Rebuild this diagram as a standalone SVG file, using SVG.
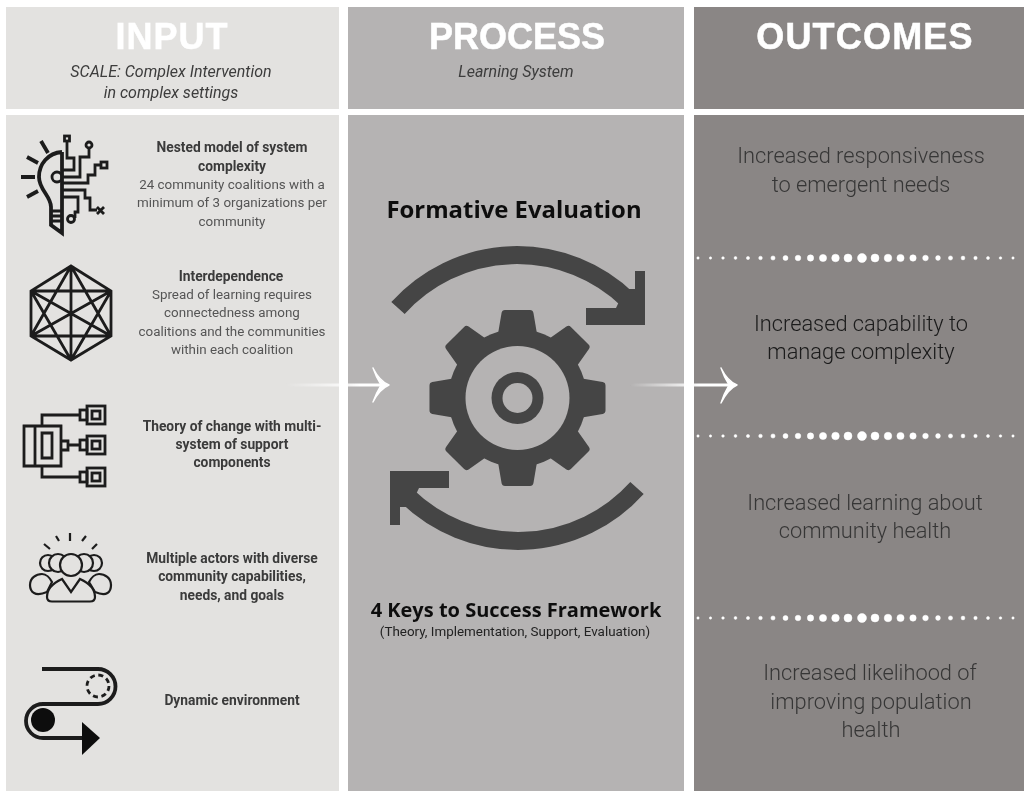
<svg xmlns="http://www.w3.org/2000/svg" xmlns:xlink="http://www.w3.org/1999/xlink" width="1024" height="791" viewBox="0 0 1024 791">
<style>
text{font-family:Roboto,"Liberation Sans",sans-serif;text-anchor:middle}
.h{font-family:"Liberation Sans",Arial,sans-serif;font-weight:700;font-size:36px;fill:#fff;stroke:#fff;stroke-width:.5}
.s{font-style:italic;font-size:16px;fill:#3c3c3c}
.b{font-size:13.800px;font-weight:700;fill:#3a3a3a}
.n{font-size:13.400px;fill:#555}
.o{font-size:21.800px;font-weight:300;fill:#2e2e2e}
.p{font-family:"Open Sans",sans-serif;font-weight:700;fill:#111}
.i{fill:none;stroke:#1c1c1c;stroke-width:2.800;stroke-linejoin:miter}
.t{stroke-width:3.800}
.f{fill:#e3e2e0}
.dk{fill:#454545}
.d{fill:#fff;stroke:#fff;stroke-width:.5}
.c{fill:#fff;stroke:#fff;stroke-width:1.400;stroke-linejoin:round}
</style>
<defs>
<filter id="b" x="-5%" y="-5%" width="110%" height="110%"><feGaussianBlur stdDeviation="0.55"/></filter>
<linearGradient id="g1" gradientUnits="userSpaceOnUse" x1="285" y1="0" x2="360" y2="0"><stop offset="0" stop-color="#fff" stop-opacity="0"/><stop offset="1" stop-color="#fff"/></linearGradient>
<linearGradient id="g2" gradientUnits="userSpaceOnUse" x1="630" y1="0" x2="700" y2="0"><stop offset="0" stop-color="#fff" stop-opacity="0"/><stop offset="1" stop-color="#fff"/></linearGradient>
<g id="dots">
<circle class="d" cx="0" cy="0" r="1.2"/><circle class="d" cx="12.5" cy="0" r="1.2"/><circle class="d" cx="25" cy="0" r="1.3"/><circle class="d" cx="37.5" cy="0" r="1.4"/><circle class="d" cx="50" cy="0" r="1.6"/><circle class="d" cx="62.5" cy="0" r="1.8"/><circle class="d" cx="75" cy="0" r="2.1"/><circle class="d" cx="87.5" cy="0" r="2.5"/><circle class="d" cx="100" cy="0" r="2.8"/><circle class="d" cx="112.5" cy="0" r="3.2"/><circle class="d" cx="125" cy="0" r="3.6"/><circle class="d" cx="137.5" cy="0" r="3.8"/><circle class="d" cx="150" cy="0" r="4"/><circle class="d" cx="164" cy="0" r="4.5"/><circle class="d" cx="177" cy="0" r="4"/><circle class="d" cx="190" cy="0" r="3.8"/><circle class="d" cx="202.500" cy="0" r="3.6"/><circle class="d" cx="215" cy="0" r="3.2"/><circle class="d" cx="227.500" cy="0" r="2.8"/><circle class="d" cx="240" cy="0" r="2.4"/><circle class="d" cx="252.500" cy="0" r="2.1"/><circle class="d" cx="265" cy="0" r="1.9"/><circle class="d" cx="277.500" cy="0" r="1.7"/><circle class="d" cx="290" cy="0" r="1.5"/><circle class="d" cx="302.500" cy="0" r="1.3"/><circle class="d" cx="315" cy="0" r="1.2"/>
</g>
<g id="cyc">
<path d="M398 308A160 160 0 0 1 628 300" fill="none" stroke="#454545" stroke-width="18"/>
<path class="dk" d="M635 271H645V325H586V308H616L625 289H635Z"/>
</g>
<path id="tooth" class="dk" stroke="#454545" stroke-width="7" stroke-linejoin="round" d="M-17 -58L-12.500 -84.500H12.500L17 -58Z"/>
</defs>
<rect width="1024" height="791" fill="#fff"/>
<g id="panels" filter="url(#b)">
<rect x="6" y="7" width="333" height="102" fill="#e3e2e0"/>
<rect x="348" y="7" width="336" height="102" fill="#b5b3b3"/>
<rect x="694" y="7" width="335" height="102" fill="#8a8685"/>
<rect x="6" y="115" width="333" height="681" fill="#e3e2e0"/>
<rect x="348" y="115" width="336" height="681" fill="#b5b3b3"/>
<rect x="694" y="115" width="335" height="681" fill="#8a8685"/>
</g>
<g id="headers" filter="url(#b)">
<text class="h" x="172" y="49" letter-spacing="1">INPUT</text>
<text class="h" x="517" y="49">PROCESS</text>
<text class="h" x="865" y="49" letter-spacing="1.200">OUTCOMES</text>
<text class="s" x="171" y="77">SCALE: Complex Intervention</text>
<text class="s" x="171" y="98">in complex settings</text>
<text class="s" x="516" y="77">Learning System</text>
</g>
<g id="node-nested" filter="url(#b)">
<g class="i">
<path class="t" d="M62 152C48 153 39 164 39 177C39 190 51 196 51 207V225L62 233V152"/>
<path d="M51 211H62M51 216H62M51 221H62"/>
<path class="t" d="M41 141L48 153M27 157L38 163M21 177H35M27 197L38 191"/>
<circle cx="57" cy="177" r="5"/>
<rect x="64.500" y="136" width="5" height="5"/>
<circle cx="89" cy="145" r="3"/>
<rect x="101" y="162" width="6" height="6"/>
<path d="M67 141V158H74V170H62M89 148V157H80V177H62M101 165H95V175H88V183H62M62 190H85V198H90V210H97M97 207L104 214M104 207L97 214M62 197H78V212H75V218"/>
<circle cx="71" cy="219" r="3.500"/>
</g>
<text class="b" x="232" y="152">Nested model of system</text>
<text class="b" x="232" y="171">complexity</text>
<text class="n" x="232" y="189">24 community coalitions with a</text>
<text class="n" x="232" y="207">minimum of 3 organizations per</text>
<text class="n" x="232" y="226">community</text>
</g>
<g id="node-interdependence" filter="url(#b)">
<path class="i" d="M71 266L111 291L111 336L71 360L31 336L31 291ZM71 266L111 336M71 266L71 360M71 266L31 336M111 291L71 360M111 291L31 336M111 291L31 291M111 336L31 336M111 336L31 291M71 360L31 291"/>
<text class="b" x="231" y="281">Interdependence</text>
<text class="n" x="232" y="299">Spread of learning requires</text>
<text class="n" x="232" y="317">connectedness among</text>
<text class="n" x="232" y="336">coalitions and the communities</text>
<text class="n" x="232" y="354">within each coalition</text>
</g>
<g id="node-theory" filter="url(#b)">
<g class="i">
<path d="M24 426H61V466H24ZM35 426V466M42 433H52V458H42ZM42 426V415H80M42 466V477H80M61 441H68V450H61M68 445H80"/>
<rect x="80" y="410" width="7" height="10"/><rect x="87" y="406" width="18" height="18"/><rect x="92" y="411" width="8" height="8"/>
<rect x="80" y="440" width="7" height="10"/><rect x="87" y="436" width="18" height="18"/><rect x="92" y="441" width="8" height="8"/>
<rect x="80" y="472" width="7" height="10"/><rect x="87" y="468" width="18" height="18"/><rect x="92" y="473" width="8" height="8"/>
</g>
<text class="b" x="232" y="431">Theory of change with multi-</text>
<text class="b" x="232" y="449">system of support</text>
<text class="b" x="232" y="467">components</text>
</g>
<g id="node-actors" filter="url(#b)">
<g class="i" stroke-width="2.200" style="stroke-width:2.200">
<path d="M44 544L50 549M56 536L59 541M70 533V541M86 536L82 541M97 544L92 549"/>
<circle class="f" cx="48" cy="563" r="8"/><circle class="f" cx="94" cy="563" r="8"/>
<circle class="f" cx="58" cy="563" r="9"/><circle class="f" cx="84" cy="563" r="9"/>
<circle class="f" cx="71" cy="565" r="11"/>
<path class="f" d="M47 592C35 597 30 592 30 585C30 578 36 574 42 574C46 574 50 578 52 582Z"/>
<path class="f" d="M95 592C107 597 111 592 111 585C111 578 105 574 99 574C95 574 91 578 89 582Z"/>
<path class="f" d="M47 597C47 590 51 584 62 579L71 592L80 579C91 584 95 590 95 597C95 600 93 601.500 90 601.500H52C49 601.500 47 600 47 597Z"/>
</g>
<text class="b" x="232" y="563">Multiple actors with diverse</text>
<text class="b" x="232" y="581">community capabilities,</text>
<text class="b" x="232" y="600">needs, and goals</text>
</g>
<g id="node-dynamic" filter="url(#b)">
<path class="i t" d="M42 669H98A17.500 17.500 0 0 1 98 704H43A17 17 0 0 0 43 738H85"/>
<circle cx="98" cy="686" r="11" class="i" stroke-dasharray="5 3.640"/>
<circle cx="43" cy="720" r="12" fill="#111"/>
<path d="M82 722L100 738L82 755Z" fill="#111"/>
<text class="b" x="232" y="705">Dynamic environment</text>
</g>
<g id="node-process" filter="url(#b)">
<text class="p" x="514" y="218" font-size="23.900">Formative Evaluation</text>
<use xlink:href="#cyc" href="#cyc"/>
<use xlink:href="#cyc" href="#cyc" transform="rotate(180 517.500 398)"/>
<g transform="translate(517.500 398)">
<use href="#tooth"/><use href="#tooth" transform="rotate(45)"/><use href="#tooth" transform="rotate(90)"/><use href="#tooth" transform="rotate(135)"/><use href="#tooth" transform="rotate(180)"/><use href="#tooth" transform="rotate(225)"/><use href="#tooth" transform="rotate(270)"/><use href="#tooth" transform="rotate(315)"/>
<circle r="69" class="dk"/><circle r="52" fill="#b5b3b3"/><circle r="26" class="dk"/><circle r="15" fill="#b5b3b3"/>
</g>
<text class="p" x="516" y="616.500" font-size="20">4 Keys to Success Framework</text>
<text x="515" y="636" font-size="13.400" fill="#222">(Theory, Implementation, Support, Evaluation)</text>
</g>
<g id="node-outcome-1" filter="url(#b)">
<text class="o" x="861" y="163" fill-opacity=".9">Increased responsiveness</text>
<text class="o" x="861" y="192" fill-opacity=".9">to emergent needs</text>
</g>
<g id="node-outcome-2" filter="url(#b)">
<text class="o" x="861" y="331" style="fill:#1a1a1a">Increased capability to</text>
<text class="o" x="861" y="359" style="fill:#1a1a1a">manage complexity</text>
</g>
<g id="node-outcome-3" filter="url(#b)">
<text class="o" x="865" y="510" fill-opacity=".9">Increased learning about</text>
<text class="o" x="865" y="538" fill-opacity=".9">community health</text>
</g>
<g id="node-outcome-4" filter="url(#b)">
<text class="o" x="870" y="680" fill-opacity=".9">Increased likelihood of</text>
<text class="o" x="871" y="709" fill-opacity=".9">improving population</text>
<text class="o" x="871" y="737" fill-opacity=".9">health</text>
</g>
<g id="dividers" filter="url(#b)">
<use href="#dots" x="698" y="258"/>
<use href="#dots" x="698" y="436"/>
<use href="#dots" x="698" y="618"/>
</g>
<g id="connectors" filter="url(#b)">
<path d="M285 383.500H384V386.500H285Z" fill="url(#g1)"/>
<path class="c" d="M373 368C377 376 382 382 389 385C382 388 377 394 373 402C375 396 378 390 381 385C378 380 375 374 373 368Z"/>
<path d="M630 383.500H732V386.500H630Z" fill="url(#g2)"/>
<path class="c" d="M721 368C725 376 730 382 737 385C730 388 725 395 721 403C723 396 726 390 729 385C726 380 723 374 721 368Z"/>
</g>
</svg>
